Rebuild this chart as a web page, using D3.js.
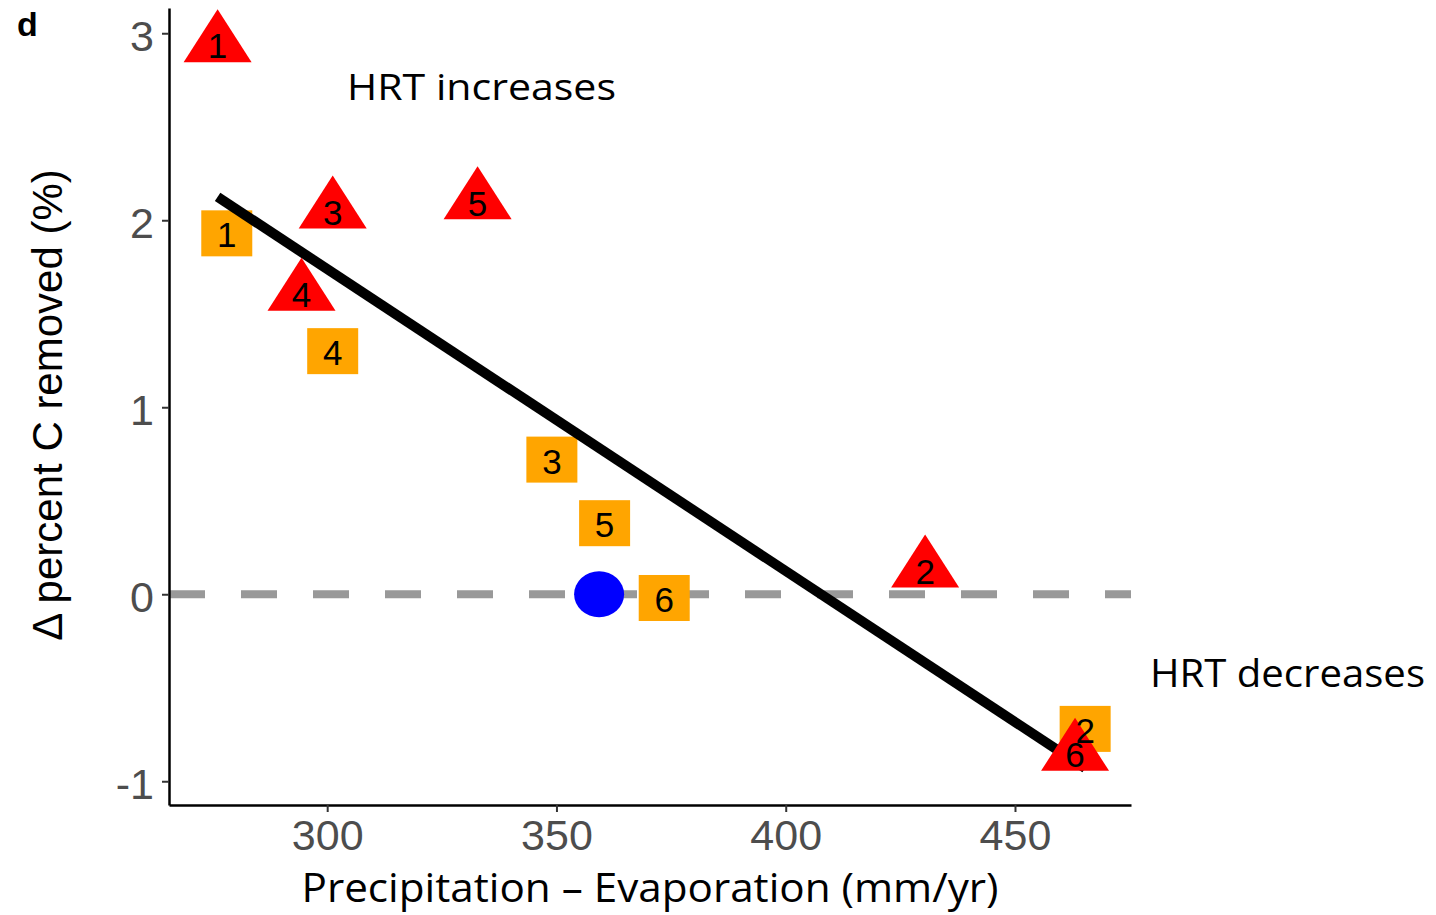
<!DOCTYPE html>
<html>
<head>
<meta charset="utf-8">
<script src="https://cdn.jsdelivr.net/npm/d3@7"></script>
<style>
  html, body { margin: 0; padding: 0; background: #fff; }
  svg { display: block; }
</style>
</head>
<body>
<div id="chart"></div>
<script>
// values
const triX = [276.1, 430.4, 301.2, 294.4, 332.8, 463.1];
const triY = [2.94, 0.13, 2.05, 1.61, 2.10, -0.85];
const triLab = ["1", "2", "3", "4", "5", "6"];

const sqX = [278.1, 465.3, 349.0, 301.2, 360.5, 373.5];
const sqY = [1.93, -0.72, 0.72, 1.30, 0.38, -0.02];
const sqLab = ["1", "2", "3", "4", "5", "6"];

const circX = [359.3];
const circY = [0];

// fitted line endpoints
const fitX = [276.1, 465.3];
const fitY = [2.125, -0.93];

const xTicks = [300, 350, 400, 450];
const yTicks = [-1, 0, 1, 2, 3];

const W = 1436, H = 915;
const arial = "'Liberation Sans', Arial, sans-serif";
const calib = "'Open Sans', 'Noto Sans', sans-serif";

const svg = d3.select("#chart").append("svg")
  .attr("width", W).attr("height", H)
  .attr("viewBox", `0 0 ${W} ${H}`);
svg.append("rect").attr("width", W).attr("height", H).attr("fill", "#fff");

const x = d3.scaleLinear().domain([265.5, 475.3]).range([169, 1131]);
const y = d3.scaleLinear().domain([-1.127, 3.135]).range([805, 8]);

const tris = triX.map((v, i) => ({ x: v, y: triY[i], lab: triLab[i] }));
const sqs = sqX.map((v, i) => ({ x: v, y: sqY[i], lab: sqLab[i] }));
const circs = circX.map((v, i) => ({ x: v, y: circY[i] }));

// zero reference
svg.append("line")
  .attr("x1", x.range()[0]).attr("x2", x.range()[1])
  .attr("y1", y(0)).attr("y2", y(0))
  .attr("stroke", "#999999")
  .attr("stroke-width", 8)
  .attr("stroke-dasharray", "36,36");

// squares
const sw = 51, sh = 46;
svg.append("g").selectAll("rect")
  .data(sqs)
  .join("rect")
  .attr("x", d => x(d.x) - sw / 2)
  .attr("y", d => y(d.y) - sh / 2)
  .attr("width", sw).attr("height", sh)
  .attr("fill", "#FFA500");

// regression line
svg.append("path")
  .datum(fitX.map((v, i) => [v, fitY[i]]))
  .attr("d", d3.line().x(d => x(d[0])).y(d => y(d[1])))
  .attr("fill", "none")
  .attr("stroke", "#000")
  .attr("stroke-width", 10);

// triangles (centroid at the point)
const tw = 68, th = 53;
svg.append("g").selectAll("path")
  .data(tris)
  .join("path")
  .attr("d", d => {
    const cx = x(d.x), cy = y(d.y);
    return `M${cx},${cy - th * 2 / 3}L${cx + tw / 2},${cy + th / 3}L${cx - tw / 2},${cy + th / 3}Z`;
  })
  .attr("fill", "#FF0000");

// circle
svg.append("g").selectAll("ellipse")
  .data(circs)
  .join("ellipse")
  .attr("cx", d => x(d.x))
  .attr("cy", d => y(d.y))
  .attr("rx", 25).attr("ry", 23)
  .attr("fill", "#0000FF");

// labels
svg.append("g").selectAll("text")
  .data(sqs.concat(tris))
  .join("text")
  .attr("x", d => x(d.x))
  .attr("y", d => y(d.y) + 14)
  .attr("text-anchor", "middle")
  .style("font-family", arial)
  .style("font-size", "35px")
  .attr("fill", "#000")
  .text(d => d.lab);

// axes
const xAxis = svg.append("g")
  .attr("transform", `translate(0,${805})`)
  .call(d3.axisBottom(x).tickValues(xTicks).tickFormat(d => String(d))
    .tickSize(7).tickSizeOuter(0).tickPadding(7));
const yAxis = svg.append("g")
  .attr("transform", `translate(${169},0)`)
  .call(d3.axisLeft(y).tickValues(yTicks).tickFormat(d => String(d))
    .tickSize(7).tickSizeOuter(0).tickPadding(8));

[xAxis, yAxis].forEach(a => {
  a.select(".domain").attr("stroke", "#000").attr("stroke-width", 2.5);
  a.selectAll(".tick line").attr("stroke", "#333").attr("stroke-width", 2);
  a.selectAll(".tick text")
    .attr("fill", "#4d4d4d")
    .style("font-family", arial)
    .style("font-size", "43px");
});
yAxis.selectAll(".tick text").attr("dy", "0.4em");

// titles
svg.append("text")
  .attr("x", 650).attr("y", 902)
  .attr("text-anchor", "middle")
  .attr("textLength", 697).attr("lengthAdjust", "spacingAndGlyphs")
  .style("font-family", calib).style("font-size", "40px")
  .attr("fill", "#000")
  .text("Precipitation \u2013 Evaporation (mm/yr)");

svg.append("text")
  .attr("transform", "translate(62,405) rotate(-90)")
  .attr("text-anchor", "middle")
  .style("font-family", arial).style("font-size", "42px")
  .attr("fill", "#000")
  .text("\u0394 percent C removed (%)");

svg.append("text")
  .attr("x", 347).attr("y", 100)
  .attr("textLength", 269).attr("lengthAdjust", "spacingAndGlyphs")
  .style("font-family", calib).style("font-size", "37px")
  .attr("fill", "#000")
  .text("HRT increases");

svg.append("text")
  .attr("x", 1150).attr("y", 687)
  .attr("textLength", 275).attr("lengthAdjust", "spacingAndGlyphs")
  .style("font-family", calib).style("font-size", "39px")
  .attr("fill", "#000")
  .text("HRT decreases");

svg.append("text")
  .attr("x", 17).attr("y", 36)
  .style("font-family", arial).style("font-size", "34px").style("font-weight", "bold")
  .attr("fill", "#000")
  .text("d");
</script>
</body>
</html>
